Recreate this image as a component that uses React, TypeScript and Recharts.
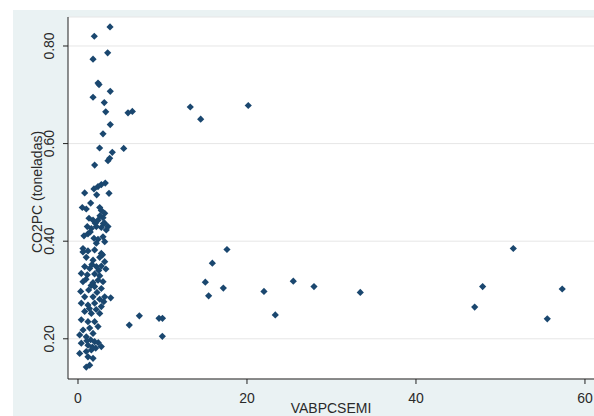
import React from 'react';
import { ScatterChart, Scatter, XAxis, YAxis, CartesianGrid } from 'recharts';

const vabpcsemi: number[] = [
  3.79, 1.93, 3.51, 1.78, 2.37, 2.49, 3.82, 1.78, 3.11, 3.28, 5.92, 6.43, 3.82, 2.96,
  13.29, 14.52, 20.15,
  2.56, 5.41, 4.06, 3.75, 3.55, 1.97,
  3.23, 2.76, 2.37, 1.89, 0.79, 3.67, 2.21,
  1.50, 0.51, 0.98, 2.57, 2.76, 3.16,
  1.30, 1.78, 2.37, 2.96, 3.16,
  1.10, 1.58, 2.17, 2.76, 3.35, 3.55,
  0.71, 1.18, 1.89, 2.37, 2.96,
  0.59, 2.17, 3.16,
  0.59, 1.18, 1.97, 2.76,
  0.98, 1.78, 2.57, 3.16,
  0.79, 1.38, 2.17, 2.76,
  0.39, 1.10, 1.97, 2.57,
  0.59, 1.78, 2.37, 2.96,
  0.32, 1.26, 1.97, 2.76, 3.87,
  0.79, 1.78, 2.57, 3.16,
  0.39, 1.18, 1.97, 2.76,
  0.79, 1.58, 2.57,
  0.39, 1.18, 1.97,
  1.38, 2.37,
  0.20, 0.98, 1.78,
  0.39, 1.18, 1.97, 2.76,
  0.20, 0.98, 1.58,
  1.18, 1.78,
  1.38, 0.98,
  2.05, 2.60, 3.00, 1.45, 2.90, 1.65, 2.45, 3.30, 0.95, 1.55, 2.25, 3.05, 1.35, 2.15, 0.60, 1.50, 2.10, 1.05, 1.70, 2.40,
  17.63, 15.90, 15.07, 17.20, 15.46, 22.01, 23.35, 6.07, 7.26, 9.59, 10.0, 9.98, 25.48, 27.93, 33.41,
  51.52, 47.89, 57.31, 46.95, 55.54,
];

const co2pc: number[] = [
  0.839, 0.820, 0.786, 0.773, 0.724, 0.721, 0.707, 0.695, 0.684, 0.665, 0.663, 0.666, 0.639, 0.620,
  0.675, 0.650, 0.678,
  0.591, 0.590, 0.582, 0.570, 0.565, 0.556,
  0.519, 0.516, 0.512, 0.507, 0.499, 0.498, 0.495,
  0.478, 0.469, 0.466, 0.469, 0.463, 0.457,
  0.447, 0.443, 0.443, 0.448, 0.437,
  0.430, 0.426, 0.430, 0.428, 0.423, 0.430,
  0.411, 0.415, 0.406, 0.404, 0.409,
  0.385, 0.396, 0.399,
  0.378, 0.380, 0.382, 0.375,
  0.367, 0.361, 0.367, 0.358,
  0.348, 0.344, 0.348, 0.349,
  0.334, 0.331, 0.333, 0.329,
  0.317, 0.315, 0.320, 0.317,
  0.297, 0.300, 0.307, 0.303, 0.284,
  0.286, 0.286, 0.281, 0.286,
  0.273, 0.269, 0.273, 0.266,
  0.256, 0.252, 0.252,
  0.239, 0.235, 0.235,
  0.222, 0.225,
  0.208, 0.204, 0.211,
  0.191, 0.187, 0.194, 0.184,
  0.170, 0.174, 0.177,
  0.163, 0.160,
  0.146, 0.142,
  0.437, 0.452, 0.436, 0.419, 0.372, 0.352, 0.340, 0.343, 0.322, 0.309, 0.295, 0.276, 0.262, 0.260, 0.218, 0.198, 0.181, 0.196, 0.183, 0.192,
  0.383, 0.355, 0.316, 0.304, 0.288, 0.297, 0.249, 0.228, 0.247, 0.242, 0.242, 0.205, 0.318, 0.307, 0.295,
  0.385, 0.307, 0.302, 0.265, 0.241,
];

const xTicks: number[] = [0, 20, 40, 60];
const yTicks: number[] = [0.2, 0.4, 0.6, 0.8];
const xTitle = 'VABPCSEMI';
const yTitle = 'CO2PC (toneladas)';

const points = vabpcsemi.map((x, i) => ({ x, y: co2pc[i] }));

const MARKER = '#1A476F';
const TEXT = '#2a2a2a';
const FONT = '"Liberation Sans", Arial, sans-serif';

const Diamond = (props: any) => {
  const { cx, cy } = props;
  if (cx == null || cy == null) return null;
  const r = 3.6;
  return (
    <polygon
      points={`${cx},${cy - r} ${cx + r},${cy} ${cx},${cy + r} ${cx - r},${cy}`}
      fill={MARKER}
    />
  );
};

const YTick = (props: any) => {
  const { x, y, payload } = props;
  return (
    <text
      x={x}
      y={y}
      transform={`rotate(-90, ${x}, ${y})`}
      textAnchor="middle"
      dominantBaseline="central"
      fontSize={14}
      fontFamily={FONT}
      fill={TEXT}
    >
      {Number(payload.value).toFixed(2)}
    </text>
  );
};

const XTick = (props: any) => {
  const { x, y, payload } = props;
  return (
    <text x={x} y={y} dy="0.71em" textAnchor="middle" fontSize={14} fontFamily={FONT} fill={TEXT}>
      {payload.value}
    </text>
  );
};

const XTitle = (props: any) => {
  const vb = props.viewBox || {};
  const cx = (vb.x || 0) + (vb.width || 0) / 2;
  const by = (vb.y || 0) + 34;
  return (
    <text x={cx} y={by} textAnchor="middle" fontSize={14} fontFamily={FONT} fill={TEXT}>
      {xTitle}
    </text>
  );
};

const YTitle = (props: any) => {
  const vb = props.viewBox || {};
  const x = (vb.x || 0) + 37;
  const y = (vb.y || 0) + (vb.height || 0) / 2 - 6;
  return (
    <text
      x={x}
      y={y}
      transform={`rotate(-90, ${x}, ${y})`}
      textAnchor="middle"
      dominantBaseline="central"
      fontSize={14}
      fontFamily={FONT}
      fill={TEXT}
    >
      {yTitle}
    </text>
  );
};

export default function App() {
  return (
    <div style={{ position: 'absolute', left: 0, top: 0, width: 594, height: 416, background: '#ffffff', overflow: 'hidden' }}>
      <div style={{ position: 'absolute', left: 13, top: 10, width: 581, height: 406, background: '#EAF2F3' }} />
      <div style={{ position: 'absolute', left: 0, top: 0 }}>
        <ScatterChart width={594} height={416} margin={{ top: 17, right: 0, bottom: 0, left: 0 }}>
          <CartesianGrid fill="#ffffff" stroke="#e6e6e6" vertical={false} horizontal={true} />
          <XAxis
            type="number"
            dataKey="x"
            domain={[-1.183, 61.07]}
            ticks={xTicks}
            allowDataOverflow
            height={37}
            tickSize={5}
            tickMargin={9}
            stroke="#222"
            tickLine={{ stroke: '#222' }}
            tick={<XTick />}
            label={<XTitle />}
          />
          <YAxis
            type="number"
            dataKey="y"
            domain={[0.1176, 0.8594]}
            ticks={yTicks}
            allowDataOverflow
            width={68}
            tickSize={5}
            tickMargin={14}
            stroke="#222"
            tickLine={{ stroke: '#222' }}
            tick={<YTick />}
            label={<YTitle />}
          />
          <Scatter data={points} shape={<Diamond />} isAnimationActive={false} />
        </ScatterChart>
      </div>
    </div>
  );
}
